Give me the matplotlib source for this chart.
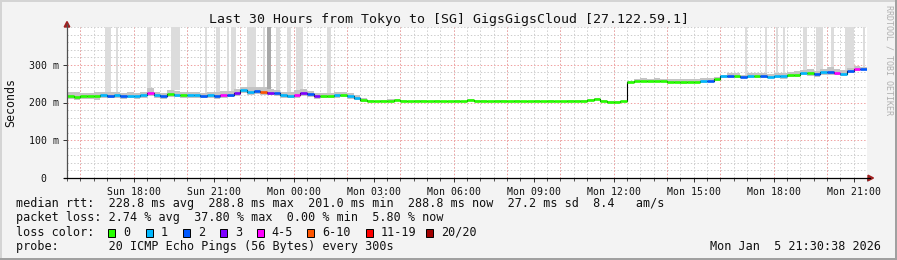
import numpy as np
import pandas as pd
import matplotlib
matplotlib.use("Agg")
import matplotlib.pyplot as plt
import matplotlib.dates as mdates
from matplotlib.lines import Line2D
from matplotlib.patches import Rectangle, Polygon

# ---------------- data ----------------
start = pd.Timestamp("2026-01-04 15:30")
end = pd.Timestamp("2026-01-05 21:30")
step_min = 15

median_ms = [
    217, 215, 216, 218, 217, 219, 218, 219, 217, 218,
    216, 219, 226, 219, 218, 222, 221, 220, 219, 220,
    218, 219, 218, 219, 221, 225, 233, 228, 230, 229,
    226, 224, 219, 218, 221, 225, 222, 218, 217, 218,
    220, 221, 216, 213, 206, 203, 203, 204, 205, 206,
    204, 203, 204, 203, 203, 204, 203, 203, 204, 203,
    206, 204, 205, 203, 204, 205, 203, 204, 203, 203,
    205, 203, 204, 203, 203, 204, 205, 204, 207, 208,
    205, 201, 202, 203, 254, 256, 257, 256, 257, 256,
    255, 254, 254, 254, 255, 256, 258, 262, 269, 271,
    270, 268, 269, 270, 269, 268, 270, 269, 272, 274,
    278, 279, 275, 280, 282, 279, 276, 283, 288, 288.8,
]

loss_pings = [
    0, 0, 0, 0, 0, 1, 2, 1, 2, 1,
    1, 1, 4, 1, 2, 0, 1, 0, 1, 1,
    2, 1, 2, 4, 2, 3, 1, 1, 2, 6,
    3, 2, 1, 1, 4, 3, 2, 3, 0, 0,
    1, 0, 1, 1, 0, 0, 0, 0, 0, 0,
    0, 0, 0, 0, 0, 0, 0, 0, 0, 0,
    0, 0, 0, 0, 0, 0, 0, 0, 0, 0,
    0, 0, 0, 0, 0, 0, 0, 0, 0, 0,
    0, 0, 0, 0, 0, 0, 0, 0, 0, 0,
    0, 0, 0, 0, 0, 1, 2, 0, 1, 2,
    0, 2, 1, 0, 2, 1, 1, 1, 0, 0,
    1, 0, 2, 1, 2, 4, 1, 2, 4, 2,
]

smoke_up_ms = [
    10, 12, 9, 8, 11, 9, 10, 8, 7, 9,
    8, 10, 12, 9, 8, 10, 9, 7, 8, 9,
    8, 10, 9, 11, 10, 12, 9, 14, 12, 13,
    11, 10, 9, 10, 12, 10, 9, 8, 9, 7,
    8, 7, 9, 8, 6, 3, 2, 2, 3, 2,
    2, 2, 2, 3, 2, 2, 2, 2, 2, 2,
    3, 2, 2, 2, 2, 2, 2, 2, 2, 2,
    2, 2, 2, 2, 2, 3, 2, 2, 3, 4,
    2, 2, 2, 2, 3, 5, 7, 6, 8, 5,
    6, 7, 9, 8, 7, 10, 8, 6, 5, 8,
    7, 6, 9, 8, 10, 7, 8, 9, 10, 9,
    8, 11, 9, 10, 12, 11, 10, 9, 8, 6,
]

smoke_down_ms = [
    8, 9, 7, 8, 10, 6, 7, 8, 9, 6,
    7, 6, 8, 7, 9, 8, 6, 7, 8, 9,
    7, 6, 8, 7, 6, 8, 9, 7, 8, 9,
    7, 8, 6, 7, 8, 9, 7, 8, 6, 7,
    8, 6, 7, 6, 4, 1, 1, 1, 1, 1,
    1, 1, 1, 1, 1, 1, 1, 1, 1, 1,
    1, 1, 1, 1, 1, 1, 1, 1, 1, 1,
    1, 1, 1, 1, 1, 1, 1, 1, 1, 1,
    1, 1, 1, 1, 2, 3, 3, 2, 3, 3,
    2, 3, 4, 3, 3, 4, 3, 4, 3, 5,
    4, 3, 5, 6, 5, 4, 5, 6, 5, 7,
    6, 8, 7, 6, 8, 7, 6, 5, 4, 3,
]

spike_start = [
    "2026-01-04 16:55", "2026-01-04 17:20", "2026-01-04 18:30", "2026-01-04 19:25",
    "2026-01-04 20:40", "2026-01-04 21:05", "2026-01-04 21:30", "2026-01-04 21:40",
    "2026-01-04 22:15", "2026-01-04 22:50", "2026-01-04 23:00", "2026-01-04 23:20",
    "2026-01-04 23:45", "2026-01-05 00:05", "2026-01-05 01:15", "2026-01-05 16:55",
    "2026-01-05 17:40", "2026-01-05 18:05", "2026-01-05 18:20", "2026-01-05 19:05",
    "2026-01-05 19:35", "2026-01-05 20:10", "2026-01-05 20:40", "2026-01-05 21:20",
]
spike_minutes = [15, 5, 10, 20, 5, 10, 5, 10, 20, 5, 10, 10,
                 10, 15, 10, 5, 5, 5, 5, 10, 15, 5, 20, 5]
spike_dark = [0, 0, 0, 0, 0, 0, 0, 0, 0, 0, 1, 0,
              0, 0, 0, 0, 0, 0, 0, 0, 0, 0, 0, 0]

loss_labels = ["0", "1", "2", "3", "4-5", "6-10", "11-19", "20/20"]
loss_colors = ["#26ff00", "#00b8ff", "#0059ff", "#7e00ff", "#ff00ff",
               "#ff5500", "#ff0000", "#a10000"]

title = "Last 30 Hours from Tokyo to [SG] GigsGigsCloud [27.122.59.1]"
line1 = "median rtt:  228.8 ms avg  288.8 ms max  201.0 ms min  288.8 ms now  27.2 ms sd  8.4   am/s"
line2 = "packet loss: 2.74 % avg  37.80 % max  0.00 % min  5.80 % now"
line3 = "loss color:"
line4 = "probe:       20 ICMP Echo Pings (56 Bytes) every 300s"
stamp = "Mon Jan  5 21:30:38 2026"

# ---------------- layout helpers ----------------
W, H = 897, 260
MONO = "DejaVu Sans Mono"
plt.rcParams["font.family"] = MONO
plt.rcParams["lines.scale_dashes"] = False


def fx(px):
    return px / W


def fy(py):
    return 1 - py / H


fig = plt.figure(figsize=(W / 100, H / 100), dpi=100, facecolor="#f3f3f3")
ax = fig.add_axes([fx(67), fy(178), fx(867) - fx(67), fy(27) - fy(178)])
ax.set_facecolor("white")

t0 = mdates.date2num(start.to_pydatetime())
t1 = mdates.date2num(end.to_pydatetime())
ax.set_xlim(t0, t1)
ax.set_ylim(0, 400)

# grid
dot = (0, (1.0, 1.4))
minor_c = "#cdcdcd"
major_c = "#f0a0a0"
for t in pd.date_range("2026-01-04 16:00", "2026-01-05 21:00", freq="30min"):
    ax.axvline(mdates.date2num(t.to_pydatetime()), color=minor_c, lw=0.72, ls=dot, zorder=1)
for t in pd.date_range("2026-01-04 16:00", "2026-01-05 20:00", freq="2h"):
    ax.axvline(mdates.date2num(t.to_pydatetime()), color=major_c, lw=0.72, ls=dot, zorder=1.1)
for v in range(20, 401, 20):
    if v % 100 != 0 or v == 400:
        ax.axhline(v, color=minor_c, lw=0.72, ls=dot, zorder=1)
for v in (100, 200, 300):
    ax.axhline(v, color=major_c, lw=0.72, ls=dot, zorder=1.1)

# series
times = pd.date_range(start, periods=len(median_ms), freq=f"{step_min}min")
xs = mdates.date2num(times.to_pydatetime())
step = step_min / 1440.0
med = np.array(median_ms, dtype=float)
up = np.array(smoke_up_ms, dtype=float)
dn = np.array(smoke_down_ms, dtype=float)
xs_ext = np.append(xs, xs[-1] + step)

# spikes (smoke exceeding the graph top)
for s, m, d in zip(spike_start, spike_minutes, spike_dark):
    ts = mdates.date2num(pd.Timestamp(s).to_pydatetime())
    idx = min(int(np.searchsorted(xs, ts, side="right")) - 1, len(med) - 1)
    base = med[idx] + up[idx]
    ax.bar(ts, 400 - base, bottom=base, width=m / 1440.0, align="edge",
           color="#a8a8a8" if d else "#dcdcdc", linewidth=0, zorder=2)

# smoke band
ax.fill_between(xs_ext, np.append(med - dn, med[-1] - dn[-1]),
                np.append(med + up, med[-1] + up[-1]), step="post",
                color="#c4c4c4", linewidth=0, zorder=3)

# median
ax.step(xs_ext, np.append(med, med[-1]), where="post", color="black", lw=0.8, zorder=4)


def loss_cat(n):
    if n <= 3:
        return n
    if n <= 5:
        return 4
    if n <= 10:
        return 5
    if n <= 19:
        return 6
    return 7


cols = [loss_colors[loss_cat(n)] for n in loss_pings]
ax.hlines(med, xs, xs + step, colors=cols, lw=1.9, zorder=5)

# axes, ticks
for sp in ax.spines.values():
    sp.set_visible(False)
ax.xaxis.set_major_locator(mdates.HourLocator(byhour=range(0, 24, 3)))
ax.xaxis.set_major_formatter(mdates.DateFormatter("%a %H:%M"))
ax.xaxis.set_minor_locator(mdates.MinuteLocator(byminute=[0, 30]))
ax.tick_params(axis="x", which="major", length=3, width=0.7, color="#333333",
               direction="out", pad=3.2, labelsize=7.1)
ax.tick_params(axis="x", which="minor", length=2, width=0.7, color="#555555", direction="out")
ax.set_yticks([0, 100, 200, 300])
ax.set_yticklabels(["0  ", "100 m", "200 m", "300 m"])
ax.tick_params(axis="y", which="major", length=3, width=0.7, color="#333333",
               direction="out", pad=3.0, labelsize=7.1)
for lab in ax.get_xticklabels() + ax.get_yticklabels():
    lab.set_family(MONO)
    lab.set_color("#111111")

tf = fig.transFigure
fig.add_artist(Line2D([fx(67), fx(67)], [fy(178), fy(24)], color="#505050", lw=0.9, transform=tf))
fig.add_artist(Line2D([fx(64), fx(870)], [fy(178), fy(178)], color="black", lw=0.9, transform=tf))
fig.add_artist(Polygon([[fx(67), fy(21.5)], [fx(64.2), fy(27)], [fx(69.8), fy(27)]],
                       closed=True, color="#a02020", transform=tf))
fig.add_artist(Polygon([[fx(873.5), fy(178)], [fx(868), fy(175.2)], [fx(868), fy(180.8)]],
                       closed=True, color="#a02020", transform=tf))

# texts
fig.text(fx(448.5), fy(23.3), title, ha="center", va="baseline", fontsize=9.5, color="#111111")
fig.text(fx(10.5), fy(102.5), "Seconds", rotation=90, ha="center", va="center",
         fontsize=8.4, color="#111111")
fig.text(fx(888.5), fy(5), "RRDTOOL / TOBI OETIKER", rotation=270, ha="center", va="top",
         fontsize=6.0, color="#b0b0b0")

fs = 8.5
fig.text(fx(16), fy(207.3), line1, ha="left", va="baseline", fontsize=fs, color="#111111")
fig.text(fx(16), fy(221.5), line2, ha="left", va="baseline", fontsize=fs, color="#111111")
fig.text(fx(16), fy(235.7), line3, ha="left", va="baseline", fontsize=fs, color="#111111")
fig.text(fx(16), fy(249.9), line4, ha="left", va="baseline", fontsize=fs, color="#111111")
fig.text(fx(880.5), fy(249.9), stamp, ha="right", va="baseline", fontsize=fs, color="#111111")

box_px = [108.3, 145.7, 182.7, 220.0, 256.7, 307.3, 365.7, 425.7]
for bx, lab, c in zip(box_px, loss_labels, loss_colors):
    fig.add_artist(Rectangle((fx(bx), fy(237)), 7 / W, 8 / H, transform=tf,
                             facecolor=c, edgecolor="black", lw=0.7))
    fig.text(fx(bx + 15), fy(235.7), lab, ha="left", va="baseline", fontsize=fs, color="#111111")

# frame shading
fig.add_artist(Rectangle((0, fy(2)), 1, 2 / H, transform=tf, facecolor="#d4d4d4", lw=0))
fig.add_artist(Rectangle((0, 0), 2 / W, 1, transform=tf, facecolor="#d4d4d4", lw=0))
fig.add_artist(Rectangle((0, 0), 1, 2.5 / H, transform=tf, facecolor="#a0a0a0", lw=0))
fig.add_artist(Rectangle((fx(895), 0), 2 / W, 1, transform=tf, facecolor="#a0a0a0", lw=0))

fig.savefig("out.png", dpi=100, facecolor=fig.get_facecolor())
